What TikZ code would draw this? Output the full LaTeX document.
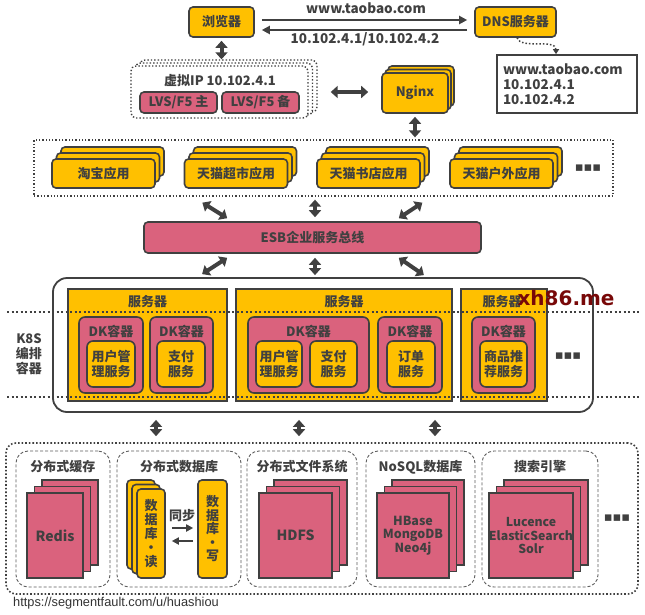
\documentclass[tikz,border=0pt]{standalone}
\usepackage{fontspec}
\setmainfont{Noto Sans CJK SC}
\newfontfamily\dejavu{DejaVu Sans}
\newfontfamily\libsans{Liberation Sans}
\usetikzlibrary{arrows.meta,shadows}
\definecolor{dk}{HTML}{404040}
\definecolor{yl}{HTML}{FFC000}
\definecolor{pk}{HTML}{DA627D}
\definecolor{wmred}{HTML}{780808}
\begin{document}
\begin{tikzpicture}[x=1pt,y=-1pt,
  every node/.style={font=\fontsize{13}{15}\selectfont\bfseries,text=dk,inner sep=0pt,align=center},
  bx/.style 2 args={minimum width=#1,minimum height=#2},
  ybox/.style={draw=dk,line width=1.6pt,fill=yl,rounded corners=4pt},
  pbox/.style={draw=dk,line width=1.6pt,fill=pk,rounded corners=4pt},
  srv/.style={draw=dk,line width=1.6pt,fill=yl},
  appstack/.style={copy shadow={shadow xshift=9pt,shadow yshift=12pt},copy shadow={shadow xshift=4.5pt,shadow yshift=6pt}},
  ngstack/.style={copy shadow={shadow xshift=6pt,shadow yshift=7pt},copy shadow={shadow xshift=3pt,shadow yshift=3.5pt}},
  pstack/.style={draw=dk,line width=1.6pt,fill=pk,copy shadow={shadow xshift=15pt,shadow yshift=13pt},copy shadow={shadow xshift=7.5pt,shadow yshift=6.5pt}},
  rstack/.style={copy shadow={shadow xshift=-10pt,shadow yshift=9pt},copy shadow={shadow xshift=-5pt,shadow yshift=4.5pt}},
  vipbox/.style={draw=dk,line width=1.4pt,dotted,fill=white,rounded corners=5pt},
  sub/.style={draw=dk!85,line width=0.9pt,dash pattern=on 3pt off 2pt,rounded corners=12pt,fill=white},
  fat/.style={draw=dk,line width=4pt,>={Triangle[width=12pt,length=7pt]},<->},
  tharrow/.style={draw=dk,line width=2.5pt,->,>={Triangle[width=8pt,length=8pt]}},
  sarrow/.style={draw=dk,line width=2pt,->,>={Triangle[width=7pt,length=7pt]}},
  kline/.style={draw=dk,line width=1.8pt,dash pattern=on 2pt off 2.5pt}
]
\fill[white] (0,0) rectangle (645,614);
\useasboundingbox (0,0) rectangle (645,614);

% ---------- top row
\node[ybox,bx={65}{30}] (browser) at (221.5,22) {浏览器};
\node[ybox,bx={81}{30}] (dns) at (515.5,22) {DNS服务器};
\coordinate (ya) at (0,20);
\coordinate (yb) at (0,30);
\draw[tharrow,shorten <=7pt,shorten >=7pt] (browser.east |- ya) -- (dns.west |- ya);
\draw[tharrow,shorten <=7pt,shorten >=7pt] (dns.west |- yb) -- (browser.east |- yb);
\node[font=\fontsize{13.5}{15}\selectfont\bfseries] (lab1) at (366,8) {www.taobao.com};
\node[font=\fontsize{13.5}{15}\selectfont\bfseries] (lab2) at (365,39) {10.102.4.1/10.102.4.2};

\node[draw=dk,line width=1.6pt,fill=white,bx={140}{58},align=left,text width=128pt,font=\fontsize{13.5}{15}\selectfont\bfseries] (res) at (567,84) {www.taobao.com\\10.102.4.1\\10.102.4.2};
\draw[dk,line width=1.5pt,dotted,-{Triangle[width=6pt,length=5pt]}] ([xshift=1.5pt]dns.south) .. controls +(4,12) and +(0,-16) .. ([xshift=-11pt]res.north);

% ---------- VIP + nginx
\node[vipbox,bx={177}{52}] (vip2) at (228.5,86) {};
\node[vipbox,bx={177}{52}] (vip1) at (224,89) {};
\node[vipbox,bx={177}{52}] (vip) at (219.5,92) {};
\node (viptxt) at (220,81) {虚拟IP 10.102.4.1};
\node[pbox,bx={77}{21}] (lvs1) at (178.5,102.5) {LVS/F5 主};
\node[pbox,bx={77}{21}] (lvs2) at (260.5,102.5) {LVS/F5 备};
\draw[fat,shorten <=3pt] (browser.south) -- (browser.south |- vip2.north);

\node[ybox,ngstack,bx={66}{40}] (nginx) at (415,93) {Nginx};
\draw[fat,shorten <=22pt,shorten >=13pt] (vip.east) -- (nginx.west |- vip.east);

% ---------- apps
\node[draw=dk,line width=1.3pt,dotted,bx={579}{56}] (apps) at (323.5,168) {};
\draw[fat,shorten <=3pt,shorten >=2pt] (nginx.south) -- (nginx.south |- apps.north);
\node[ybox,appstack,bx={103}{29}] (app1) at (103.5,173.5) {淘宝应用};
\node[ybox,appstack,bx={103}{29}] (app2) at (236,173.5) {天猫超市应用};
\node[ybox,appstack,bx={103}{29}] (app3) at (368.5,173.5) {天猫书店应用};
\node[ybox,appstack,bx={103}{29}] (app4) at (501.5,173.5) {天猫户外应用};
\node (appdots) at (588,168) {\dejavu ▪▪▪};

% ---------- ESB
\node[pbox,bx={337}{31}] (esb) at (312.5,237.5) {ESB企业服务总线};
\draw[fat] ([shift={(169,6)}]apps.south west) -- ([shift={(84,-3)}]esb.north west);
\draw[fat] ([shift={(-8.5,3)}]apps.south) -- ([shift={(2.5,-4)}]esb.north);
\draw[fat] ([shift={(389,6)}]apps.south west) -- ([shift={(-83,-3)}]esb.north east);

% ---------- K8S
\node[draw=dk,line width=1.8pt,rounded corners=14pt,bx={540}{134}] (k8s) at (323,345) {};
\draw[fat] ([shift={(84,4)}]esb.south west) -- ([shift={(150,-3)}]k8s.north west);
\draw[fat] ([shift={(2.5,4)}]esb.south) -- ([shift={(-8,-2)}]k8s.north);
\draw[fat] ([shift={(-83,4)}]esb.south east) -- ([shift={(-170,-2)}]k8s.north east);

\node[srv,bx={159}{112}] (s1) at (147.5,345) {};
\node[srv,bx={216}{112}] (s2) at (344,345) {};
\node[srv,bx={86}{112}] (s3) at (504,345) {};
\node (s1t) at (147.5,302) {服务器};
\node (s2t) at (344,302) {服务器};
\node (s3t) at (502,302) {服务器};

\draw[kline] (7,312) -- (640,312);
\draw[kline] (7,397) -- (640,397);

\node[pbox,rounded corners=6pt,bx={64}{76}] (dk1) at (111,355) {};
\node[pbox,rounded corners=6pt,bx={63}{76}] (dk2) at (181.5,355) {};
\node[pbox,rounded corners=6pt,bx={121}{76}] (dk3) at (308.5,355) {};
\node[pbox,rounded corners=6pt,bx={64}{76}] (dk4) at (410,355) {};
\node[pbox,rounded corners=6pt,bx={63}{76}] (dk5) at (503.5,355) {};
\node (dk1t) at (111,331) {DK容器};
\node (dk2t) at (181.5,331) {DK容器};
\node (dk3t) at (308.5,331) {DK容器};
\node (dk4t) at (410,331) {DK容器};
\node (dk5t) at (503.5,331) {DK容器};
\node[ybox,rounded corners=6pt,bx={48}{46}] (sv1) at (111,364) {用户管\\理服务};
\node[ybox,rounded corners=6pt,bx={48}{46}] (sv2) at (181,364) {支付\\服务};
\node[ybox,rounded corners=6pt,bx={46}{46}] (sv3) at (279,364) {用户管\\理服务};
\node[ybox,rounded corners=6pt,bx={47}{46}] (sv4) at (333.5,364) {支付\\服务};
\node[ybox,rounded corners=6pt,bx={48}{46}] (sv5) at (411,364) {订单\\服务};
\node[ybox,rounded corners=6pt,bx={47}{46}] (sv6) at (503.5,364) {商品推\\荐服务};

\node (k8slab) at (29,354) {K8S\\编排\\容器};
\node (k8sdots) at (568,356) {\dejavu ▪▪▪};

% ---------- bottom
\node[draw=dk,line width=1.6pt,dotted,rounded corners=10pt,bx={632}{151}] (bot) at (322,518.5) {};
\draw[fat,shorten <=7pt,shorten >=6pt] ([xshift=-167pt]k8s.south) -- ([xshift=-166pt]bot.north);
\draw[fat,shorten <=7pt,shorten >=6pt] ([xshift=-24pt]k8s.south) -- ([xshift=-23pt]bot.north);
\draw[fat,shorten <=7pt,shorten >=6pt] ([xshift=112pt]k8s.south) -- ([xshift=113pt]bot.north);

\node[sub,bx={94}{136}] (c1) at (63,519) {};
\node[sub,bx={124}{136}] (c2) at (179,519) {};
\node[sub,bx={110}{136}] (c3) at (302,519) {};
\node[sub,bx={109}{136}] (c4) at (420.5,519) {};
\node[sub,bx={116}{136}] (c5) at (540,519) {};
\node (c1t) at (63,467) {分布式缓存};
\node (c2t) at (179,467) {分布式数据库};
\node (c3t) at (302,467) {分布式文件系统};
\node (c4t) at (420.5,467) {NoSQL数据库};
\node (c5t) at (540,467) {搜索引擎};

\node[pstack,bx={56}{85},font=\fontsize{14}{15}\selectfont\bfseries] (redis) at (55,535.5) {Redis};
\node[pstack,bx={73}{85},font=\fontsize{14}{15}\selectfont\bfseries] (hdfs) at (295.5,535.5) {HDFS};
\node[pstack,bx={72}{85},font=\fontsize{12.5}{13.5}\selectfont\bfseries] (nosql) at (413,535.5) {HBase\\MongoDB\\Neo4j};
\node[pstack,bx={82}{85},font=\fontsize{12.3}{13.5}\selectfont\bfseries] (search) at (531,535.5) {Lucence\\ElasticSearch\\Solr};

\node[ybox,rstack,bx={28}{89},font=\fontsize{13}{14}\selectfont\bfseries] (dbr) at (151,533.5) {数\\据\\库\\·\\读};
\node[ybox,bx={29}{98},font=\fontsize{13}{13.5}\selectfont\bfseries] (dbw) at (212.5,529) {数\\据\\库\\·\\写};
\node (sync) at (182,516) {同步};
\coordinate (sy1) at (0,528);
\coordinate (sy2) at (0,541);
\draw[sarrow,shorten <=6pt,shorten >=4pt] (dbr.east |- sy1) -- (dbw.west |- sy1);
\draw[sarrow,shorten <=4pt,shorten >=6pt] (dbw.west |- sy2) -- (dbr.east |- sy2);
\node (botdots) at (617,518) {\dejavu ▪▪▪};

\node[font=\libsans\fontsize{12.8}{12.8}\selectfont,text=black!80,anchor=west] (url) at (13,603) {https://segmentfault.com/u/huashiou};

\node[font=\dejavu\bfseries\fontsize{20}{22}\selectfont,text=wmred] (wm) at (566,298) {xh86.me};
\end{tikzpicture}
\end{document}
